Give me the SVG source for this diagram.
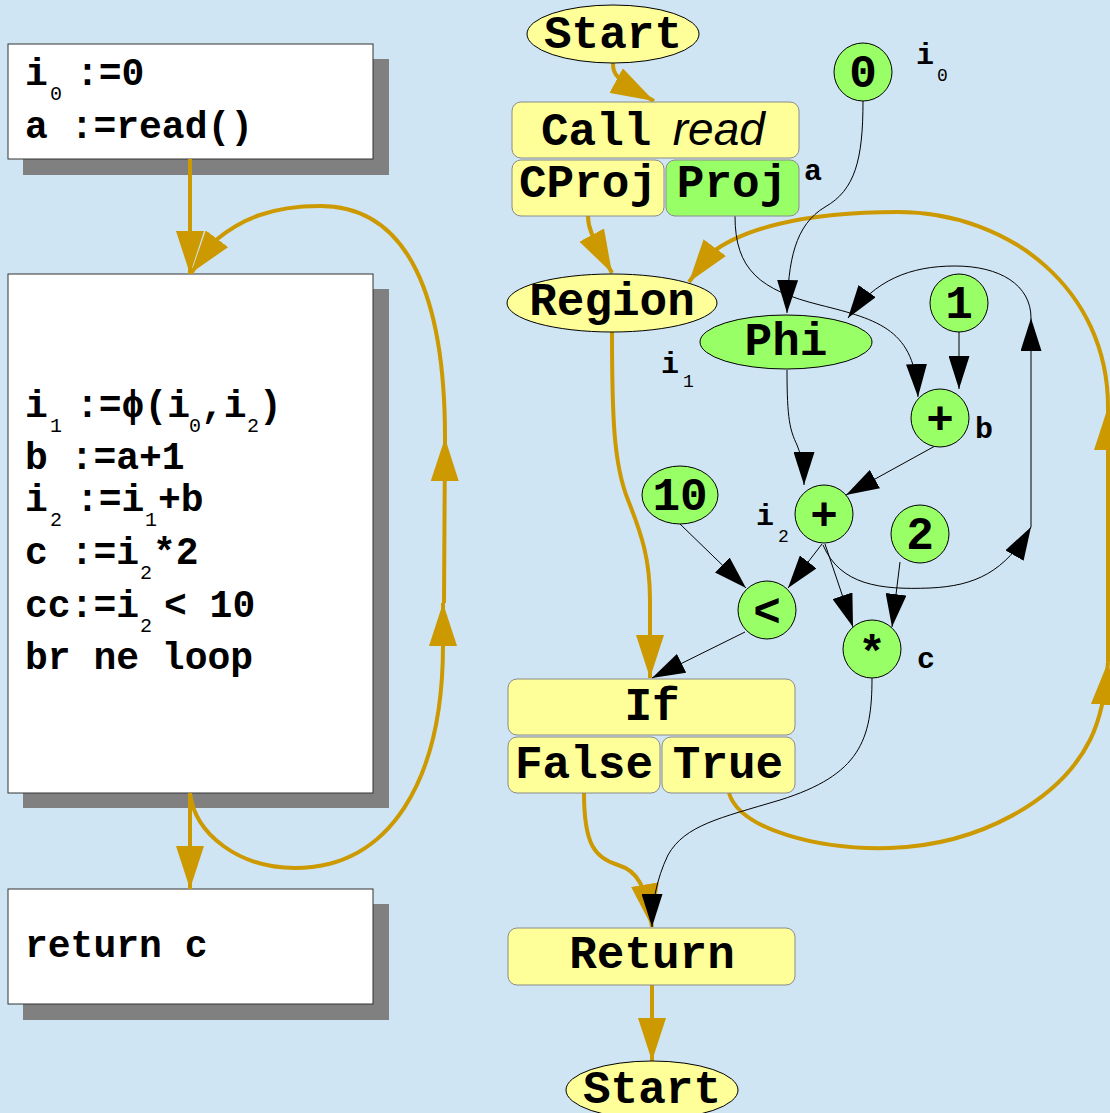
<svg xmlns="http://www.w3.org/2000/svg" width="1110" height="1113" viewBox="0 0 1110 1113">
<style>
.shadow{fill:#808080}
.box{fill:#fff;stroke:#333;stroke-width:1}
.code{font-family:"Liberation Mono","Courier New",monospace;font-weight:bold;font-size:38px;fill:#000}
.sub{font-size:20px;font-weight:normal}
.yb{fill:#ffff99;stroke:#8a8a8a;stroke-width:1}
.gb{fill:#99ff66;stroke:#8a8a8a;stroke-width:1}
.ye{fill:#ffff99;stroke:#000;stroke-width:1}
.ge{fill:#99ff66;stroke:#000;stroke-width:1}
.t{font-family:"Liberation Mono","Courier New",monospace;font-weight:bold;font-size:46px;fill:#000;text-anchor:middle}
.it{font-family:"Liberation Sans",Arial,sans-serif;font-style:italic;font-weight:normal}
.lbl{font-family:"Liberation Mono","Courier New",monospace;font-weight:bold;font-size:30px;fill:#000}
.lsub{font-size:18px;font-weight:normal}
.cf{fill:none;stroke:#cc9900;stroke-width:4}
.df{fill:none;stroke:#000;stroke-width:1}
</style>
<defs>
<marker id="ga" viewBox="0 0 43 28" markerWidth="43" markerHeight="28" refX="43" refY="14" orient="auto" markerUnits="userSpaceOnUse"><path d="M0,0L43,14L0,28z" fill="#cc9900"/></marker>
<marker id="ba" viewBox="0 0 33 21" markerWidth="33" markerHeight="21" refX="33" refY="10.5" orient="auto" markerUnits="userSpaceOnUse"><path d="M0,0L33,10.5L0,21z" fill="#000"/></marker>
</defs>
<rect x="0" y="0" width="1110" height="1113" fill="#cfe5f3"/>

<g id="block1">
<rect class="shadow" x="23" y="59" width="366" height="116"/>
<rect class="box" x="8" y="44" width="365" height="115"/>
<text class="code" x="25" y="85">i<tspan class="sub" x="50" dy="15">0 </tspan><tspan x="76" dy="-15">:=0</tspan></text>
<text class="code" x="25" y="138">a :=read()</text>
</g>

<g id="block2">
<rect class="shadow" x="23" y="289" width="366" height="519"/>
<rect class="box" x="8" y="274" width="365" height="519"/>
<text class="code" x="25" y="417">i<tspan class="sub" x="50" dy="15">1 </tspan><tspan x="76" dy="-15">:=ϕ(i</tspan><tspan class="sub" x="189" dy="15">0</tspan><tspan x="201" dy="-15">,i</tspan><tspan class="sub" x="247" dy="15">2</tspan><tspan x="259" dy="-15">)</tspan></text>
<text class="code" x="25" y="469">b :=a+1</text>
<text class="code" x="25" y="511">i<tspan class="sub" x="50" dy="15">2 </tspan><tspan x="76" dy="-15">:=i</tspan><tspan class="sub" x="145" dy="15">1</tspan><tspan x="158" dy="-15">+b</tspan></text>
<text class="code" x="25" y="564">c :=i<tspan class="sub" x="140" dy="15">2</tspan><tspan x="153" dy="-15">*2</tspan></text>
<text class="code" x="25" y="617">cc:=i<tspan class="sub" x="140" dy="15">2 </tspan><tspan x="164" dy="-15">&lt; 10</tspan></text>
<text class="code" x="25" y="669">br ne loop</text>
</g>

<g id="block3">
<rect class="shadow" x="23" y="904" width="366" height="116"/>
<rect class="box" x="8" y="889" width="365" height="115"/>
<text class="code" x="25" y="957">return c</text>
</g>

<g id="connectors">
<path class="cf" d="M190,159L190,274" marker-end="url(#ga)"/>
<path class="cf" d="M190,793L190,889" marker-end="url(#ga)"/>
<path class="cf" d="M190,793C195,835 240,868 295,868C390,868 443,780 443,645L443,603" marker-end="url(#ga)"/>
<path class="cf" d="M444,603L445,438" marker-end="url(#ga)"/>
<path class="cf" d="M445,438C445,300 410,206 320,206C270,206 240,220 216,240L191,273" marker-end="url(#ga)"/>

<path class="cf" d="M613,63C613,74 615,80 654,101" marker-end="url(#ga)"/>
<path class="cf" d="M588,216C588,228 590,232 612,273" marker-end="url(#ga)"/>
<path class="cf" d="M612,332C612,420 614,465 628,500C642,535 650,560 650,600L650,678" marker-end="url(#ga)"/>
<path class="cf" d="M729,793C740,830 820,850 890,848C980,845 1060,800 1090,740C1100,720 1106,690 1108,662" marker-end="url(#ga)"/>
<path class="cf" d="M1108,662L1108,407" marker-end="url(#ga)"/>
<path class="cf" d="M1108,407C1108,290 1010,212 898,212C800,212 740,230 710,254L689,282" marker-end="url(#ga)"/>
<path class="cf" d="M584,793C584,845 595,858 618,865C638,871 645,885 652,927" marker-end="url(#ga)"/>
<path class="cf" d="M652,985L652,1061" marker-end="url(#ga)"/>

<path class="df" d="M735,216C735,270 760,290 820,305C880,320 915,330 918,397" marker-end="url(#ba)"/>
<path class="df" d="M863,101C863,160 855,190 825,207C795,225 788,260 787,313" marker-end="url(#ba)"/>
<path class="df" d="M959,332L959,389" marker-end="url(#ba)"/>
<path class="df" d="M787,370C787,420 790,430 797,445C803,460 804,470 804,485" marker-end="url(#ba)"/>
<path class="df" d="M935,446L846,495" marker-end="url(#ba)"/>
<path class="df" d="M680,524L746,588" marker-end="url(#ba)"/>
<path class="df" d="M822,544L788,588" marker-end="url(#ba)"/>
<path class="df" d="M825,544L853,627" marker-end="url(#ba)"/>
<path class="df" d="M900,562L892,627" marker-end="url(#ba)"/>
<path class="df" d="M745,632L652,678" marker-end="url(#ba)"/>
<path class="df" d="M823,545C840,585 880,590 930,588C975,586 1005,572 1031,527" marker-end="url(#ba)"/>
<path class="df" d="M1031,527L1031,318" marker-end="url(#ba)"/>
<path class="df" d="M1031,318C1031,285 1000,266 955,266C910,266 875,280 848,318" marker-end="url(#ba)"/>
<path class="df" d="M872,678C872,740 860,775 780,800C720,818 685,825 668,855C656,880 652,905 652,927" marker-end="url(#ba)"/>
</g>

<g id="start-top">
<ellipse class="ye" cx="613" cy="34" rx="86" ry="29"/>
<text class="t" x="613" y="48">Start</text>
</g>
<g id="call-read">
<rect class="yb" x="512" y="102" width="287" height="56" rx="9"/>
<text class="t" x="541" y="145" style="text-anchor:start">Call<tspan class="it" x="660"> read</tspan></text>
</g>
<g id="cproj">
<rect class="yb" x="512" y="160" width="152" height="56" rx="9"/>
<text class="t" x="588" y="197">CProj</text>
</g>
<g id="proj">
<rect class="gb" x="666" y="160" width="133" height="56" rx="9"/>
<text class="t" x="732" y="197">Proj</text>
<text class="lbl" x="804" y="180">a</text>
</g>
<g id="const0">
<circle class="ge" cx="863" cy="72" r="29"/>
<text class="t" x="863" y="87">0</text>
<text class="lbl" x="916" y="64">i<tspan class="lsub" x="937" dy="17">0</tspan></text>
</g>
<g id="region">
<ellipse class="ye" cx="612" cy="303" rx="105" ry="29"/>
<text class="t" x="612" y="315">Region</text>
</g>
<g id="phi">
<ellipse class="ge" cx="786" cy="342" rx="86" ry="27"/>
<text class="t" x="786" y="355">Phi</text>
<text class="lbl" x="661" y="373">i<tspan class="lsub" x="683" dy="14">1</tspan></text>
</g>
<g id="const1">
<circle class="ge" cx="959" cy="303" r="29"/>
<text class="t" x="959" y="318">1</text>
</g>
<g id="add-b">
<circle class="ge" cx="940" cy="418" r="29"/>
<text class="t" x="940" y="434">+</text>
<text class="lbl" x="975" y="438">b</text>
</g>
<g id="add-i2">
<circle class="ge" cx="824" cy="514" r="29"/>
<text class="t" x="824" y="530">+</text>
<text class="lbl" x="756" y="525">i<tspan class="lsub" x="778" dy="17">2</tspan></text>
</g>
<g id="const10">
<ellipse class="ge" cx="680" cy="495" rx="38" ry="29"/>
<text class="t" x="680" y="510">10</text>
</g>
<g id="const2">
<circle class="ge" cx="920" cy="534" r="29"/>
<text class="t" x="920" y="549">2</text>
</g>
<g id="less">
<circle class="ge" cx="767" cy="610" r="29"/>
<text class="t" x="767" y="626">&lt;</text>
</g>
<g id="mul">
<circle class="ge" cx="872" cy="649" r="29"/>
<text class="t" x="872" y="668">*</text>
<text class="lbl" x="917" y="668">c</text>
</g>
<g id="if">
<rect class="yb" x="508" y="679" width="287" height="56" rx="9"/>
<text class="t" x="652" y="720">If</text>
</g>
<g id="false">
<rect class="yb" x="508" y="737" width="152" height="56" rx="9"/>
<text class="t" x="584" y="778">False</text>
</g>
<g id="true">
<rect class="yb" x="662" y="737" width="133" height="56" rx="9"/>
<text class="t" x="728" y="778">True</text>
</g>
<g id="return">
<rect class="yb" x="508" y="928" width="287" height="57" rx="9"/>
<text class="t" x="652" y="968">Return</text>
</g>
<g id="start-bottom">
<ellipse class="ye" cx="652" cy="1090" rx="86" ry="29"/>
<text class="t" x="652" y="1103">Start</text>
</g>
</svg>
